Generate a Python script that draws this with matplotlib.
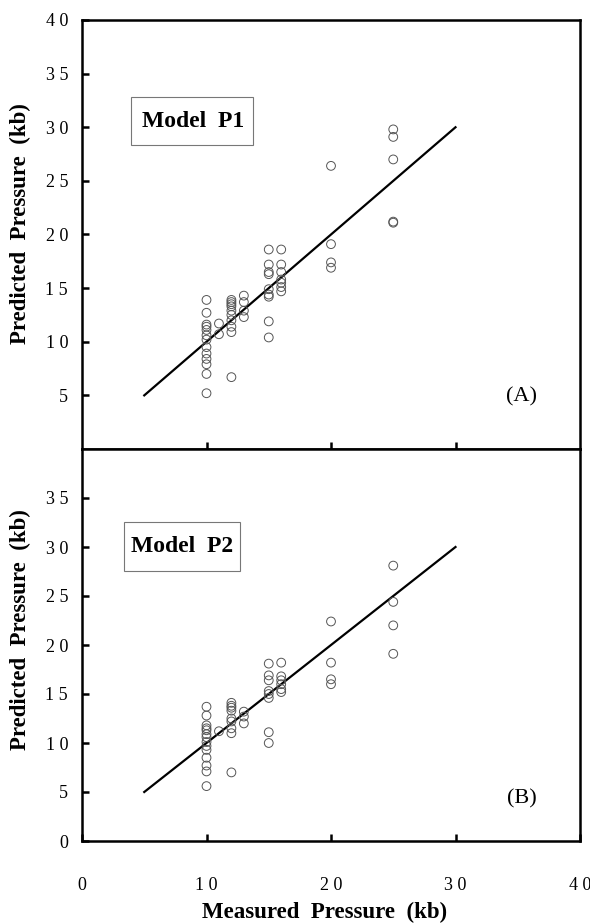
import matplotlib
matplotlib.use('Agg')
import matplotlib.pyplot as plt
from matplotlib.patches import Rectangle

plt.rcParams['font.family'] = ['Liberation Serif', 'DejaVu Serif']

# panel A, model P1
measured_p1 = [10]*13 + [11]*2 + [12]*10 + [13]*4 + [15]*9 + [16]*7 + [20]*4 + [25]*5
predicted_p1 = [13.9, 12.7, 11.6, 11.4, 11.1, 10.6, 10.2, 9.5, 8.9, 8.4, 7.9, 7.0, 5.2,
                11.7, 10.7,
                13.9, 13.7, 13.5, 13.3, 12.9, 12.5, 12.0, 11.4, 10.9, 6.7,
                14.3, 13.7, 12.9, 12.3,
                18.6, 17.2, 16.5, 16.3, 14.9, 14.4, 14.2, 11.9, 10.4,
                18.6, 17.2, 16.5, 15.8, 15.5, 15.1, 14.7,
                26.4, 19.1, 17.4, 16.9,
                29.8, 29.1, 27.0, 21.2, 21.1]

# panel B, model P2
measured_p2 = [10]*14 + [11] + [12]*9 + [13]*3 + [15]*8 + [16]*6 + [20]*4 + [25]*4
predicted_p2 = [13.7, 12.8, 11.8, 11.5, 11.3, 10.9, 10.6, 10.1, 9.7, 9.3, 8.5, 7.7, 7.1, 5.6,
                11.2,
                14.1, 13.8, 13.6, 13.3, 12.5, 12.2, 11.5, 11.0, 7.0,
                13.2, 12.7, 12.0,
                18.1, 16.9, 16.4, 15.3, 15.0, 14.6, 11.1, 10.0,
                18.2, 16.8, 16.4, 16.0, 15.5, 15.2,
                22.4, 18.2, 16.5, 16.0,
                28.1, 24.4, 22.0, 19.1]

fit_x = [5, 30]
fit_y = [5, 30]

W, H = 590, 924
fig = plt.figure(figsize=(W/100, H/100), dpi=100)
ax1 = fig.add_axes([82/W, 1-449/H, 498/W, 429/H])
ax2 = fig.add_axes([82/W, 1-841/H, 498/W, 392/H])


def spaced(t):
    # digits are printed letter-spaced in the original
    return ' '.join(str(t))


def style_panel(ax, measured, predicted, yticks):
    ax.scatter(measured, predicted, s=40, facecolors='none', edgecolors='#555555', linewidths=0.7, zorder=3)
    ax.plot(fit_x, fit_y, color='black', lw=1.6, zorder=2)
    ax.set_xlim(0, 40)
    ax.set_ylim(0, 40)
    ax.set_yticks(yticks)
    ax.set_yticklabels([spaced(t) for t in yticks])
    for s in ax.spines.values():
        s.set_linewidth(1.8)
    ax.tick_params(direction='in', length=5, width=1.8, labelsize=13)
    ax.tick_params(axis='y', pad=10)


style_panel(ax1, measured_p1, predicted_p1, [5, 10, 15, 20, 25, 30, 35, 40])
ax1.set_xticks([10, 20, 30])
ax1.set_xticklabels([])

xt = [0, 10, 20, 30, 40]
style_panel(ax2, measured_p2, predicted_p2, [0, 5, 10, 15, 20, 25, 30, 35])
ax2.set_xticks(xt)
ax2.set_xticklabels([spaced(t) for t in xt])
ax2.tick_params(axis='x', pad=26)

# model boxes
ax1.add_patch(Rectangle((3.9, 28.3), 9.8, 4.5, facecolor='white', edgecolor='#777777', lw=0.8, zorder=4))
ax1.text(8.9, 30.5, 'Model  P1', fontsize=17, fontweight='bold', ha='center', va='center', zorder=5)
ax2.add_patch(Rectangle((3.4, 27.6), 9.3, 5.0, facecolor='white', edgecolor='#777777', lw=0.8, zorder=4))
ax2.text(8.05, 30.0, 'Model  P2', fontsize=17, fontweight='bold', ha='center', va='center', zorder=5)

ax1.text(35.3, 4.9, '(A)', fontsize=16, ha='center', va='center')
ax2.text(35.3, 4.3, '(B)', fontsize=16, ha='center', va='center')

fig.text(20/W, 1-224/H, 'Predicted  Pressure  (kb)', rotation=90, fontsize=16.5,
         fontweight='bold', ha='center', va='center')
fig.text(20/W, 1-630/H, 'Predicted  Pressure  (kb)', rotation=90, fontsize=16.5,
         fontweight='bold', ha='center', va='center')
fig.text(325/W, 1-912/H, 'Measured  Pressure  (kb)', fontsize=16.5,
         fontweight='bold', ha='center', va='center')

fig.savefig('out.png', dpi=100)
